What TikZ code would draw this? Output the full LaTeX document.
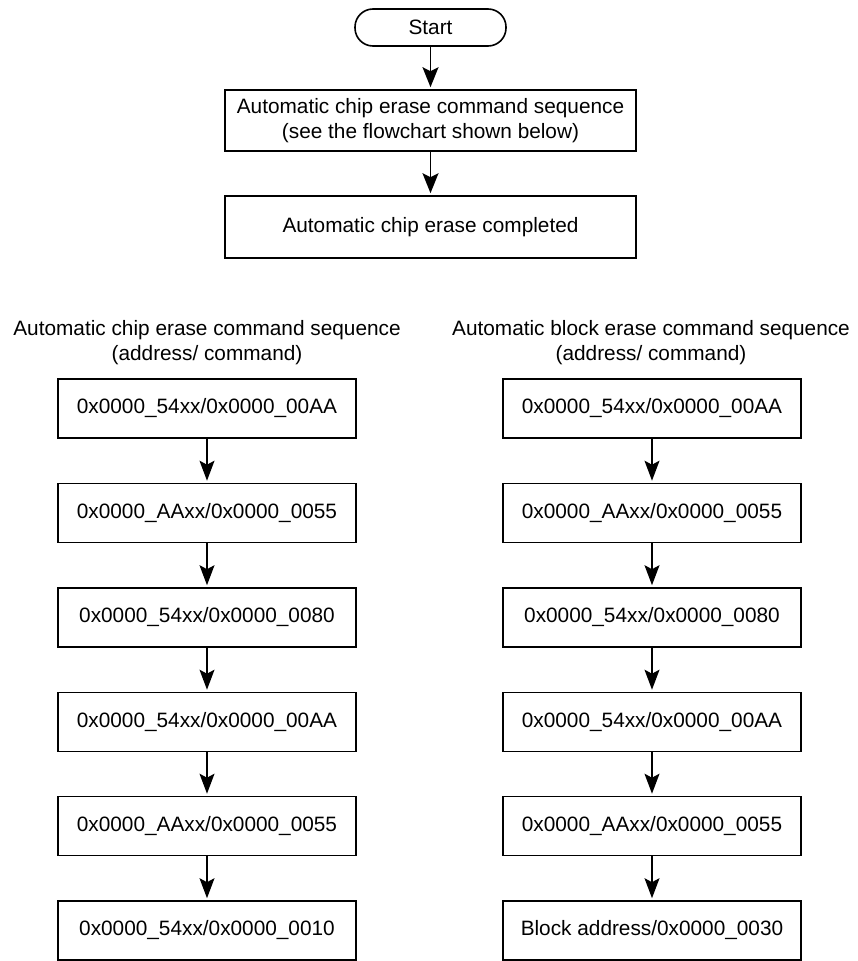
\documentclass[tikz,border=0pt]{standalone}
\usepackage{fontspec}
\setmainfont{Liberation Sans}
\usetikzlibrary{arrows.meta,positioning}
\begin{document}
\begin{tikzpicture}[x=1pt,y=-1pt,
  every node/.style={font=\fontsize{20.8}{25}\selectfont, inner sep=0pt},
  procbox/.style={draw, line width=1.6pt, minimum height=59pt, minimum width=298pt, align=center},
  widebox/.style={draw, line width=1.6pt, minimum width=411pt, align=center},
  termbox/.style={draw, line width=1.6pt, rounded corners=18pt, minimum width=151pt, minimum height=37pt},
  titletext/.style={align=center},
  flow/.style={line width=1.8pt, -{Stealth[length=20pt,width=16pt,inset=4pt]}, shorten >=2pt},
  subflow/.style={line width=1.3pt, -{Stealth[length=20pt,width=15pt,inset=4pt]}, shorten >=2pt}
]
\useasboundingbox (0,0) rectangle (857,961);

% top flow
\node[termbox] (start) at (430.5,27.5) {Start};
\node[widebox, minimum height=61pt] (seq) at (430.5,120.5) {Automatic chip erase command sequence\\(see the flowchart shown below)};
\node[widebox, minimum height=62pt] (done) at (430.5,227) {Automatic chip erase completed};
\draw[flow] (start) -- (seq);
\draw[flow] (seq) -- (done);

% titles
\node[titletext] (tl) at (207,343) {Automatic chip erase command sequence\\(address/ command)};
\node[titletext] (tr) at (651,343) {Automatic block erase command sequence\\(address/ command)};

% left column
\node[procbox] (l1) at (207,408.5) {0x0000\_54xx/0x0000\_00AA};
\node[procbox] (l2) at (207,513) {0x0000\_AAxx/0x0000\_0055};
\node[procbox] (l3) at (207,617.5) {0x0000\_54xx/0x0000\_0080};
\node[procbox] (l4) at (207,722) {0x0000\_54xx/0x0000\_00AA};
\node[procbox] (l5) at (207,826) {0x0000\_AAxx/0x0000\_0055};
\node[procbox] (l6) at (207,930.5) {0x0000\_54xx/0x0000\_0010};

% right column
\node[procbox] (r1) at (652,408.5) {0x0000\_54xx/0x0000\_00AA};
\node[procbox] (r2) at (652,513) {0x0000\_AAxx/0x0000\_0055};
\node[procbox] (r3) at (652,617.5) {0x0000\_54xx/0x0000\_0080};
\node[procbox] (r4) at (652,722) {0x0000\_54xx/0x0000\_00AA};
\node[procbox] (r5) at (652,826) {0x0000\_AAxx/0x0000\_0055};
\node[procbox] (r6) at (652,930.5) {Block address/0x0000\_0030};

\foreach \a/\b in {l1/l2,l2/l3,l3/l4,l4/l5,l5/l6,r1/r2,r2/r3,r3/r4,r4/r5,r5/r6}
  \draw[subflow] (\a) -- (\b);
\end{tikzpicture}
\end{document}
